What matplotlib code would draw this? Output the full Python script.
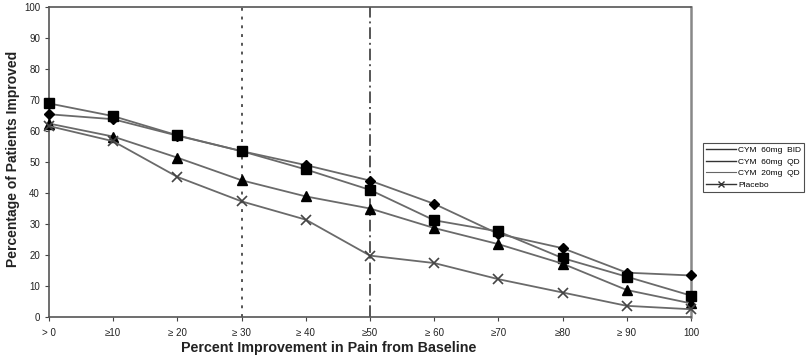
import matplotlib
matplotlib.use("Agg")
import matplotlib.pyplot as plt
from matplotlib.lines import Line2D

plt.rcParams['font.family'] = ['Liberation Sans', 'DejaVu Sans']

x_vals = [0, 10, 20, 30, 40, 50, 60, 70, 80, 90, 100]
x_labels = ["> 0", "≥10", "≥ 20", "≥ 30", "≥ 40", "≥50", "≥ 60", "≥70", "≥80", "≥ 90", "100"]

bid60 = [65.4, 63.8, 58.5, 53.5, 49.0, 44.0, 36.5, 26.8, 22.2, 14.3, 13.4]
qd60 = [68.9, 64.8, 58.6, 53.5, 47.6, 41.0, 31.2, 27.6, 19.0, 13.0, 6.9]
qd20 = [62.4, 58.2, 51.4, 44.1, 38.9, 35.0, 28.7, 23.5, 17.2, 8.7, 4.4]
placebo = [61.6, 56.7, 45.2, 37.3, 31.4, 19.8, 17.4, 12.2, 7.9, 3.6, 2.5]

series_names = ["CYM  60mg  BID", "CYM  60mg  QD", "CYM  20mg  QD", "Placebo"]

fig = plt.figure(figsize=(8.09, 3.6), dpi=100)
ax = fig.add_axes([49/809, 1-317/360, (691-49)/809, (317-7)/360])

lc = '#6a6a6a'
ax.axvline(30, color='#555555', lw=1.4, ls=(0, (1.5, 3)), zorder=1)
ax.axvline(50, color='#555555', lw=1.4, ls=(0, (6, 2, 1, 2)), zorder=1)

ax.plot(x_vals, bid60, color=lc, lw=1.3, marker='D', ms=5, mfc='black', mec='black', zorder=3, clip_on=False)
ax.plot(x_vals, qd60, color=lc, lw=1.3, marker='s', ms=7, mfc='black', mec='black', zorder=3, clip_on=False)
ax.plot(x_vals, qd20, color=lc, lw=1.3, marker='^', ms=7, mfc='black', mec='black', zorder=3, clip_on=False)
ax.plot(x_vals, placebo, color=lc, lw=1.3, marker='x', ms=7, mew=1.2, mec='#444444', zorder=3, clip_on=False)

ax.set_xlim(0, 100)
ax.set_ylim(0, 100)
ax.set_xticks(x_vals)
ax.set_xticklabels(x_labels)
ax.set_yticks(range(0, 101, 10))
ax.tick_params(axis='both', labelsize=7, length=3, width=0.8, color='#444444', labelcolor='#222222')
ax.tick_params(axis='x', pad=5)
for s in ax.spines.values():
    s.set_color('#555555')
    s.set_linewidth(1.2)
ax.spines['right'].set_color('#888888')
ax.spines['right'].set_linewidth(1.8)

ax.set_xlabel("Percent Improvement in Pain from Baseline", fontsize=10.3, fontweight='bold', color='#222222')
ax.xaxis.set_label_coords((329-49)/642, -(348-317)/310, transform=ax.transAxes)
ax.xaxis.label.set_va('center')
ax.set_ylabel("Percentage of Patients Improved", fontsize=10, fontweight='bold', color='#222222')
ax.yaxis.set_label_coords(-(49-13)/642, 0.5 + (162-158.5)/310, transform=ax.transAxes)
ax.yaxis.label.set_va('center')

handles = [Line2D([], [], color='#333333', lw=1.0),
           Line2D([], [], color='#333333', lw=1.0),
           Line2D([], [], color='#666666', lw=0.8),
           Line2D([], [], color='#333333', lw=1.0, marker='x', ms=4, mew=1.0)]
leg = fig.legend(handles, series_names, loc='upper left', bbox_to_anchor=(703/809, 1-143/360),
                 fontsize=6, frameon=True, fancybox=False, borderpad=0.4, labelspacing=0.45,
                 handlelength=3.5, handletextpad=0.3, borderaxespad=0)
leg.get_frame().set_edgecolor('#222222')
leg.get_frame().set_linewidth(0.8)

fig.savefig("out.png", dpi=100)
